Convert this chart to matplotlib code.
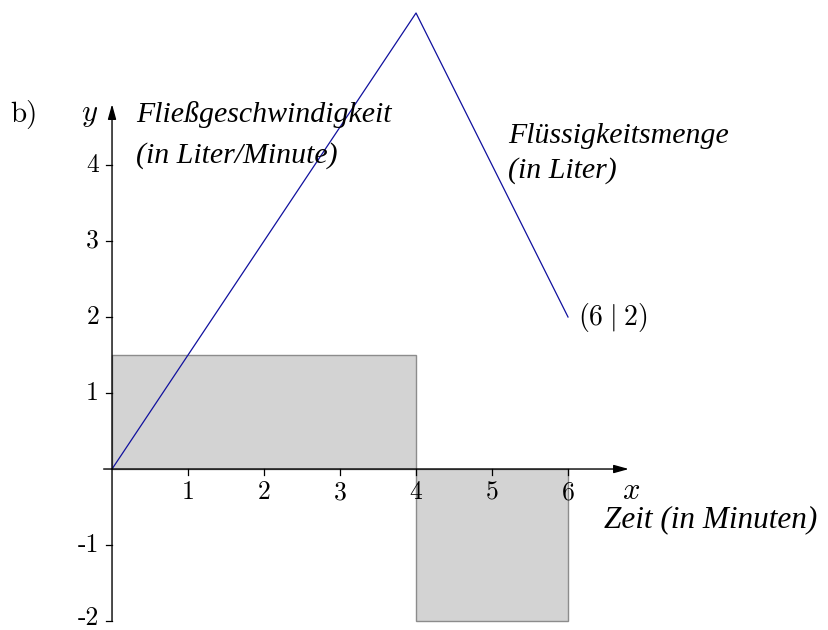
import matplotlib
matplotlib.use("Agg")
import matplotlib.pyplot as plt
from matplotlib.patches import Rectangle

plt.rcParams["mathtext.fontset"] = "cm"

# Flow rate (step function) and accumulated volume (piecewise linear)
rate_starts = [0, 4]
rate_widths = [4, 2]
rate_values = [1.5, -2]
volume_t = [0, 4, 6]
volume_v = [0, 6, 2]
x_ticks = [1, 2, 3, 4, 5, 6]
y_ticks = [-2, -1, 1, 2, 3, 4]
y_tick_labels = ["-2", "-1", "1", "2", "3", "4"]

fig = plt.figure(figsize=(8.29, 6.30), dpi=100)
ax = fig.add_axes([0, 0, 1, 1])
ax.set_xlim(-1.474, 9.434)
ax.set_ylim(-2.118, 6.171)
ax.axis("off")

upright = dict(family="cmr10", fontsize=18.5)
italic = dict(family="Liberation Serif", style="italic", fontsize=21.5)

# rate bars
for x0, w, h in zip(rate_starts, rate_widths, rate_values):
    ax.add_patch(Rectangle((x0, 0), w, h, facecolor="#d3d3d3",
                           edgecolor="#8c8c8c", linewidth=1.0, zorder=1))

# volume curve
ax.plot(volume_t, volume_v, color="#10109e", linewidth=0.9, zorder=3)

# axes with arrows
ax.annotate("", xy=(6.80, 0), xytext=(-0.11, 0),
            arrowprops=dict(arrowstyle="-|>,head_length=0.9,head_width=0.25",
                            color="black", lw=1.0, shrinkA=0, shrinkB=0), zorder=4)
ax.annotate("", xy=(0, 4.80), xytext=(0, -2.0),
            arrowprops=dict(arrowstyle="-|>,head_length=0.9,head_width=0.25",
                            color="black", lw=1.0, shrinkA=0, shrinkB=0), zorder=4)

# ticks
for t in x_ticks:
    ax.plot([t, t], [0, -0.08], color="black", lw=0.9, zorder=4)
    ax.text(t, -0.31, str(t), ha="center", va="center", **upright)
for t, lab in zip(y_ticks, y_tick_labels):
    ax.plot([-0.08, 0], [t, t], color="black", lw=0.9, zorder=4)
    ty = t + 0.04 if t == -2 else t
    ax.text(-0.17, ty, lab, ha="right", va="center", **upright)

# labels
ax.text(-1.345, 4.66, "b)", ha="left", va="center", family="cmr10", fontsize=21)
ax.text(-0.29, 4.66, r"$y$", ha="center", va="center", fontsize=22)
ax.text(6.83, -0.28, r"$x$", ha="center", va="center", fontsize=22)
ax.text(0.32, 4.66, "Fließgeschwindigkeit", ha="left", va="center", **italic)
ax.text(0.32, 4.13, "(in Liter/Minute)", ha="left", va="center", **italic)
ax.text(5.21, 4.38, "Flüssigkeitsmenge", ha="left", va="center", **italic)
ax.text(5.21, 3.93, "(in Liter)", ha="left", va="center", **italic)
ax.text(6.47, -0.67, "Zeit (in Minuten)", ha="left", va="center",
        family="Liberation Serif", style="italic", fontsize=22.5)
ax.text(6.13, 2.0, r"$(6\;|\;2)$", ha="left", va="center", fontsize=20)

fig.savefig("out.png", dpi=100)
